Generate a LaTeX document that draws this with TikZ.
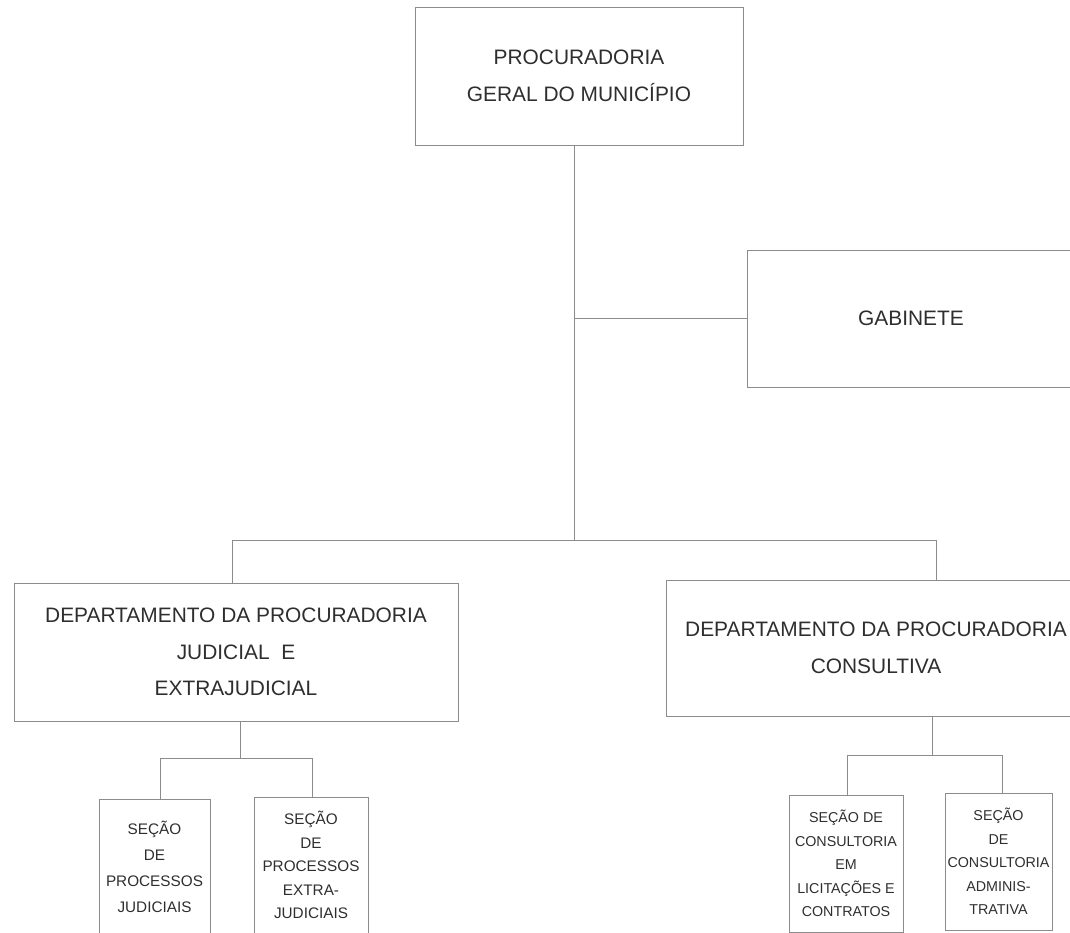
\documentclass[tikz,border=0pt]{standalone}
\usepackage{fontspec}
\setmainfont{Liberation Sans}
\usetikzlibrary{calc}
\definecolor{linegray}{HTML}{8C8C8C}
\definecolor{textgray}{HTML}{2E2E2E}
\tikzset{
   box/.style={draw=linegray, line width=0.8pt, text=textgray, align=center, inner sep=0pt,
      font=\fontsize{20.9}{36.5}\selectfont},
   smallbox/.style={box, font=\fontsize{15.3}{23.5}\selectfont},
   link/.style={draw=linegray, line width=0.8pt}
}

\begin{document}
\begin{tikzpicture}[x=1pt,y=-1pt]
%%%%%%%%%%%%%%%%%%
\useasboundingbox (0,0) rectangle (1070,933);
\clip (0,0) rectangle (1070,933);

%Top level
	\node[box, minimum width=328pt, minimum height=138pt] (pgm) at (579,76)
		{PROCURADORIA\\GERAL DO MUNICÍPIO};
	\node[box, minimum width=328pt, minimum height=137pt] (gab) at (911,318.5)
		{GABINETE};

%Departments
	\node[box, minimum width=444pt, minimum height=138pt] (dpj) at (236,652)
		{DEPARTAMENTO DA PROCURADORIA\\JUDICIAL\ \ E\\EXTRAJUDICIAL};
	\node[box, minimum width=420pt, minimum height=136pt] (dpc) at (876,648)
		{DEPARTAMENTO DA PROCURADORIA\\CONSULTIVA};

%Sections
	\node[smallbox, minimum width=111pt, minimum height=136pt, font=\fontsize{15.3}{26}\selectfont] (spj) at (154.5,867)
		{SEÇÃO\\DE\\PROCESSOS\\JUDICIAIS};
	\node[smallbox, minimum width=114pt, minimum height=136pt] (spe) at (311,865)
		{SEÇÃO\\DE\\PROCESSOS\\EXTRA-\\JUDICIAIS};
	\node[smallbox, minimum width=114pt, minimum height=137pt, font=\fontsize{14.3}{23.5}\selectfont] (slc) at (846,863.5)
		{SEÇÃO DE\\CONSULTORIA\\EM\\LICITAÇÕES E\\CONTRATOS};
	\node[smallbox, minimum width=107pt, minimum height=137pt, font=\fontsize{14.3}{23.5}\selectfont] (sca) at (998.5,861.5)
		{SEÇÃO\\DE\\CONSULTORIA\\ADMINIS-\\TRATIVA};

%Bars
	\coordinate (bar) at (0,540);
	\coordinate (jbar) at (0,758);
	\coordinate (cbar) at (0,755);
	\coordinate (trunk) at ($(pgm.south)+(-5,0)$);

% Connect boxes
	\draw[link] (trunk) -- (trunk |- bar);
	\draw[link] (trunk) |- (gab.west);
	\draw[link] ($(dpj.north)+(-4,0)$) |- (trunk |- bar);
	\draw[link] ($(dpc.north)+(60,0)$) |- (trunk |- bar);

	\draw[link] ($(dpj.south)+(4,0)$) -- ($(dpj.south |- jbar)+(4,0)$);
	\draw[link] ($(spj.north)+(5.5,0)$) |- ($(dpj.south |- jbar)+(4,0)$);
	\draw[link] ($(spe.north)+(1,0)$) |- ($(dpj.south |- jbar)+(4,0)$);

	\draw[link] ($(dpc.south)+(56,0)$) -- ($(dpc.south |- cbar)+(56,0)$);
	\draw[link] ($(slc.north)+(1,0)$) |- ($(dpc.south |- cbar)+(56,0)$);
	\draw[link] ($(sca.north)+(3.5,0)$) |- ($(dpc.south |- cbar)+(56,0)$);

\end{tikzpicture}
\end{document}
